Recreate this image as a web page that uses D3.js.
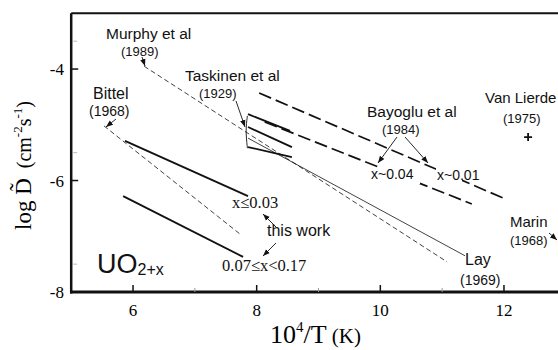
<!DOCTYPE html>
<html>
<head>
<meta charset="utf-8">
<script src="https://cdn.jsdelivr.net/npm/d3@7"></script>
<style>
  body { margin: 0; background: #fff; }
  svg { display: block; }
  .sans { font-family: "Liberation Sans", Arial, sans-serif; }
  .serif { font-family: "Liberation Serif", "Times New Roman", serif; }
</style>
</head>
<body>
<div id="chart"></div>
<script>
// values: x = 10^4/T (K), y = log D (cm^2 s^-1)
var xTicks = [6, 8, 10, 12]
var xMinor = [7, 9, 11]
var yTicks = [-4, -6, -8]
var yMinor = [-3.5, -5.5, -7.5]

var murphy = [[6.18, -3.95], [11.08, -7.46]]
var bittel = [[5.53, -5.02], [7.73, -6.96]]
var lay = [[7.86, -5.24], [11.37, -7.35]]
var workLow = [[5.87, -5.29], [7.86, -6.28]]     // x <= 0.03
var workHigh = [[5.84, -6.28], [7.78, -7.37]]    // 0.07 <= x < 0.17
var taskinen1 = [[7.86, -4.81], [8.54, -5.11]]
var taskinen2 = [[7.86, -5.04], [8.57, -5.40]]
var taskinen3 = [[7.86, -5.40], [8.57, -5.58]]
var taskinenBracket = [[7.85, -4.84], [7.82, -5.1], [7.85, -5.42]]
var bayoglu01 = [[8.04, -4.43], [12.02, -6.33]]  // x ~ 0.01
var bayoglu04 = [[8.13, -4.95], [11.48, -6.42]]  // x ~ 0.04
var vanLierde = [[12.39, -5.22]]

var W = 558, H = 350
var svg = d3.select('#chart').append('svg')
  .attr('width', W).attr('height', H)

var x = d3.scaleLinear().domain([5, 13]).range([71.2, 565.8])
var y = d3.scaleLinear().domain([-8, -3]).range([292, 13.3])

var line = d3.line().x(function(d){ return x(d[0]) }).y(function(d){ return y(d[1]) })

// arrow head
svg.append('defs').append('marker')
  .attr('id', 'head')
  .attr('markerUnits', 'userSpaceOnUse')
  .attr('markerWidth', 8).attr('markerHeight', 6)
  .attr('refX', 7).attr('refY', 3)
  .attr('orient', 'auto')
  .append('path').attr('d', 'M0,0.3 L7,3 L0,5.7 Z').attr('fill', '#111')

// frame
svg.append('line').attr('x1', x(5)).attr('x2', W + 5).attr('y1', y(-3)).attr('y2', y(-3))
  .attr('stroke', '#111').attr('stroke-width', 2)
svg.append('line').attr('x1', x(5)).attr('x2', x(5)).attr('y1', y(-3)).attr('y2', y(-8) + 1.5)
  .attr('stroke', '#111').attr('stroke-width', 2.5)
svg.append('line').attr('x1', x(5) - 1.2).attr('x2', W + 5).attr('y1', y(-8)).attr('y2', y(-8))
  .attr('stroke', '#111').attr('stroke-width', 3)

// ticks
svg.selectAll('.xt').data(xTicks).enter().append('line')
  .attr('x1', function(d){ return x(d) }).attr('x2', function(d){ return x(d) })
  .attr('y1', y(-8)).attr('y2', y(-8) - 7)
  .attr('stroke', '#111').attr('stroke-width', 1.5)
svg.selectAll('.xm').data(xMinor).enter().append('line')
  .attr('x1', function(d){ return x(d) }).attr('x2', function(d){ return x(d) })
  .attr('y1', y(-8)).attr('y2', y(-8) - 4)
  .attr('stroke', '#999').attr('stroke-width', 1)
svg.selectAll('.yt').data(yTicks).enter().append('line')
  .attr('x1', x(5)).attr('x2', x(5) + 7)
  .attr('y1', function(d){ return y(d) }).attr('y2', function(d){ return y(d) })
  .attr('stroke', '#111').attr('stroke-width', 1.5)
svg.selectAll('.ym').data(yMinor).enter().append('line')
  .attr('x1', x(5) + 2).attr('x2', x(5) + 6)
  .attr('y1', function(d){ return y(d) }).attr('y2', function(d){ return y(d) })
  .attr('stroke', '#bbb').attr('stroke-width', 1)

svg.selectAll('.xl').data(xTicks).enter().append('text')
  .attr('class', 'serif').attr('font-size', 17)
  .attr('x', function(d){ return x(d) }).attr('y', 316)
  .attr('text-anchor', 'middle').text(function(d){ return d })
svg.selectAll('.yl').data(yTicks).enter().append('text')
  .attr('class', 'serif').attr('font-size', 17)
  .attr('x', 64).attr('y', function(d){ return y(d) + 6 })
  .attr('text-anchor', 'end').text(function(d){ return d })

// axis titles
var xt = svg.append('text').attr('class', 'serif').attr('x', 270).attr('y', 343)
xt.append('tspan').attr('font-size', 26).text('10')
xt.append('tspan').attr('font-size', 15).attr('dy', -11).text('4')
xt.append('tspan').attr('font-size', 26).attr('dy', 11).text('/T')
xt.append('tspan').attr('font-size', 21).text(' (K)')

var yt = svg.append('text').attr('class', 'serif')
  .attr('transform', 'translate(31,230) rotate(-90)')
yt.append('tspan').attr('font-size', 23).text('log D\u0303')
yt.append('tspan').attr('font-size', 20).text('\u00a0\u00a0(cm')
yt.append('tspan').attr('font-size', 13).attr('dy', -9).text('-2')
yt.append('tspan').attr('font-size', 20).attr('dy', 9).text('s')
yt.append('tspan').attr('font-size', 13).attr('dy', -9).text('-1')
yt.append('tspan').attr('font-size', 20).attr('dy', 9).text(')')

// data lines
var series = [
  {d: murphy, w: 0.8, dash: '5,3'},
  {d: bittel, w: 0.8, dash: '5,3'},
  {d: lay, w: 0.8, dash: null},
  {d: workLow, w: 1.8, dash: null},
  {d: workHigh, w: 1.8, dash: null},
  {d: taskinen1, w: 1.8, dash: null},
  {d: taskinen2, w: 1.8, dash: null},
  {d: taskinen3, w: 1.8, dash: null},
  {d: taskinenBracket, w: 0.9, dash: null},
  {d: bayoglu01, w: 1.7, dash: '13,5'},
  {d: bayoglu04, w: 1.7, dash: '13,5'}
]
svg.selectAll('.series').data(series).enter().append('path')
  .attr('d', function(s){ return line.curve(d3.curveBasis)(s.d) })
  .attr('fill', 'none').attr('stroke', '#111')
  .attr('stroke-width', function(s){ return s.w })
  .attr('stroke-dasharray', function(s){ return s.dash })

// Van Lierde point
svg.selectAll('.plus').data(vanLierde).enter().append('path')
  .attr('transform', function(d){ return 'translate(' + x(d[0]) + ',' + y(d[1]) + ')' })
  .attr('fill', 'none').attr('stroke', '#111').attr('stroke-width', 1.8)
  .attr('d', 'M-4,0H4M0,-4V4')

// the x~ labels break the Bayoglu lines
svg.append('rect').attr('x', 381).attr('y', 166).attr('width', 39).attr('height', 18).attr('fill', '#fff')
svg.append('rect').attr('x', 436).attr('y', 168).attr('width', 26).attr('height', 15).attr('fill', '#fff')

// annotations
var arrows = [
  [142, 57, 145, 66], [116, 119, 106, 127], [236, 101, 245, 127],
  [397, 137, 378, 163], [405, 137, 428, 163],
  [276, 227, 263, 214], [276, 243, 263, 256], [549, 233, 557, 240]
]
svg.selectAll('.arr').data(arrows).enter().append('line')
  .attr('x1', function(a){ return a[0] }).attr('y1', function(a){ return a[1] })
  .attr('x2', function(a){ return a[2] }).attr('y2', function(a){ return a[3] })
  .attr('stroke', '#111').attr('stroke-width', 0.9)
  .attr('marker-end', 'url(#head)')

var labels = [
  ['Murphy et al', 106, 39, 15.5, 'sans'], ['(1989)', 121, 56, 13, 'sans'],
  ['Taskinen et al', 185, 81, 15.5, 'sans'], ['(1929)', 199, 98, 13, 'sans'],
  ['Bittel', 93, 99, 16, 'sans'], ['(1968)', 89, 116, 14, 'sans'],
  ['Bayoglu et al', 367, 117, 15.5, 'sans'], ['(1984)', 382, 134, 13, 'sans'],
  ['Van Lierde', 485, 103, 15, 'sans'], ['(1975)', 503, 123, 13, 'sans'],
  ['x~0.04', 371, 179, 14, 'sans'], ['x~0.01', 437, 180, 14, 'sans'],
  ['Marin', 510, 227, 15, 'sans'], ['(1968)', 510, 245, 13, 'sans'],
  ['Lay', 465, 265, 16, 'sans'], ['(1969)', 460, 285, 14, 'sans'],
  ['x\u22640.03', 232, 208, 16.5, 'serif'], ['this work', 267, 236, 16, 'sans'],
  ['0.07\u2264x<0.17', 222, 271, 16.5, 'serif']
]
svg.selectAll('.lab').data(labels).enter().append('text')
  .attr('class', function(l){ return l[4] })
  .attr('x', function(l){ return l[1] }).attr('y', function(l){ return l[2] })
  .attr('font-size', function(l){ return l[3] })
  .attr('fill', '#111')
  .text(function(l){ return l[0] })

var uo = svg.append('text').attr('class', 'sans').attr('x', 97).attr('y', 273).attr('fill', '#111')
uo.append('tspan').attr('font-size', 27).text('UO')
uo.append('tspan').attr('font-size', 16).attr('dy', 2).text('2+x')
</script>
</body>
</html>
